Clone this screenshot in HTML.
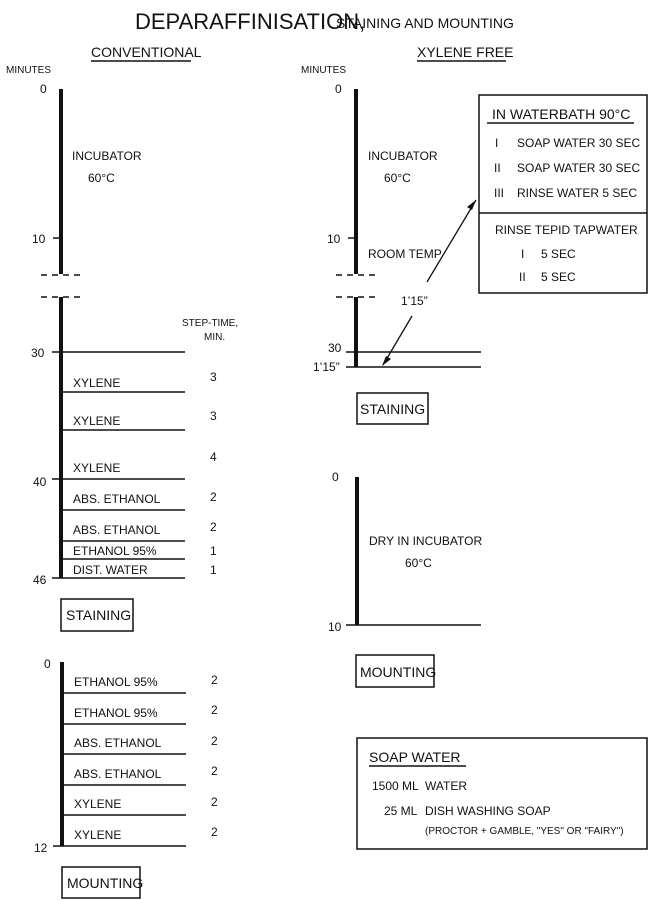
<!DOCTYPE html>
<html><head><meta charset="utf-8"><style>
html,body{margin:0;padding:0;background:#fff;}
svg{display:block;}
text{font-family:"Liberation Sans Narrow","Liberation Sans",sans-serif;fill:#111;}
</style></head><body>
<svg width="651" height="900" viewBox="0 0 651 900" xmlns="http://www.w3.org/2000/svg">
<g stroke="#111" fill="none">
<!-- left conventional axis -->
<line x1="61" y1="89" x2="61" y2="274" stroke-width="4"/>
<line x1="53" y1="238" x2="61" y2="238" stroke-width="1.5"/>
<line x1="41" y1="275" x2="80" y2="275" stroke-width="1.5" stroke-dasharray="6,5"/>
<line x1="41" y1="297" x2="80" y2="297" stroke-width="1.5" stroke-dasharray="6,5"/>
<line x1="61" y1="297" x2="61" y2="578" stroke-width="4"/>
<g stroke-width="1.5">
<line x1="52" y1="352" x2="185" y2="352"/>
<line x1="63" y1="392" x2="185" y2="392"/>
<line x1="63" y1="430" x2="185" y2="430"/>
<line x1="52" y1="479" x2="185" y2="479"/>
<line x1="63" y1="510" x2="185" y2="510"/>
<line x1="63" y1="541" x2="185" y2="541"/>
<line x1="63" y1="559" x2="185" y2="559"/>
<line x1="52" y1="578" x2="185" y2="578"/>
</g>
<rect x="61" y="599" width="72" height="32" stroke-width="1.5"/>
<!-- left mounting -->
<line x1="62" y1="662" x2="62" y2="846" stroke-width="4"/>
<g stroke-width="1.5">
<line x1="63" y1="693" x2="186" y2="693"/>
<line x1="63" y1="724" x2="186" y2="724"/>
<line x1="63" y1="754" x2="186" y2="754"/>
<line x1="63" y1="785" x2="186" y2="785"/>
<line x1="63" y1="815" x2="186" y2="815"/>
<line x1="53" y1="846" x2="186" y2="846"/>
</g>
<rect x="62" y="867" width="78" height="31" stroke-width="1.5"/>
<!-- right xylene free -->
<line x1="356" y1="89" x2="356" y2="274" stroke-width="4"/>
<line x1="348" y1="238" x2="356" y2="238" stroke-width="1.5"/>
<line x1="336" y1="275" x2="375" y2="275" stroke-width="1.5" stroke-dasharray="6,5"/>
<line x1="336" y1="297" x2="375" y2="297" stroke-width="1.5" stroke-dasharray="6,5"/>
<line x1="356" y1="297" x2="356" y2="367" stroke-width="4"/>
<line x1="346" y1="352" x2="481" y2="352" stroke-width="1.5"/>
<line x1="346" y1="367" x2="481" y2="367" stroke-width="1.5"/>
<rect x="357" y="393" width="71" height="31" stroke-width="1.5"/>
<rect x="479" y="95" width="168" height="198" stroke-width="1.5"/>
<line x1="479" y1="213" x2="647" y2="213" stroke-width="1.5"/>
<line x1="487" y1="123" x2="634" y2="123" stroke-width="1.5"/>
<!-- arrow -->
<line x1="427" y1="282" x2="476" y2="200" stroke-width="1.3"/>
<line x1="383" y1="365" x2="412" y2="316" stroke-width="1.3"/>
<line x1="357" y1="477" x2="357" y2="625" stroke-width="4"/>
<line x1="346" y1="625" x2="481" y2="625" stroke-width="1.5"/>
<rect x="356" y="655" width="78" height="32" stroke-width="1.5"/>
<rect x="357" y="738" width="290" height="111" stroke-width="1.5"/>
<line x1="369" y1="766" x2="466" y2="766" stroke-width="1.5"/>
<!-- underlines -->
<line x1="91" y1="61" x2="191" y2="61" stroke-width="1.5"/>
<line x1="417" y1="61" x2="506" y2="61" stroke-width="1.5"/>
</g>
<polygon points="476,200 467,207 472,210" fill="#111"/>
<polygon points="382,366 391,359 386,356" fill="#111"/>
<text x="135" y="29" font-size="22">DEPARAFFINISATION,</text>
<text x="336" y="28" font-size="14">STAINING AND MOUNTING</text>
<g font-size="14">
<text x="91" y="57">CONVENTIONAL</text>
<text x="417" y="57">XYLENE FREE</text>
<text x="360" y="414">STAINING</text>
<text x="66" y="620">STAINING</text>
<text x="67" y="888">MOUNTING</text>
<text x="360" y="677">MOUNTING</text>
<text x="492" y="119">IN WATERBATH 90°C</text>
<text x="369" y="762">SOAP WATER</text>
</g>
<g font-size="12">
<text x="6" y="73" font-size="10">MINUTES</text>
<text x="301" y="73" font-size="10">MINUTES</text>
<text x="40" y="93">0</text><text x="335" y="93">0</text>
<text x="32" y="243">10</text><text x="327" y="243">10</text>
<text x="31" y="357">30</text><text x="328" y="352">30</text>
<text x="313" y="371">1’15”</text>
<text x="33" y="486">40</text><text x="33" y="584">46</text>
<text x="44" y="668">0</text><text x="34" y="852">12</text>
<text x="332" y="481">0</text><text x="328" y="631">10</text>
<text x="72" y="160">INCUBATOR</text><text x="88" y="182">60°C</text>
<text x="368" y="160">INCUBATOR</text><text x="384" y="182">60°C</text>
<text x="368" y="258">ROOM TEMP</text>
<text x="401" y="305">1’15”</text>
<text x="182" y="326" font-size="10">STEP-TIME,</text>
<text x="204" y="340" font-size="10">MIN.</text>
<text x="73" y="387">XYLENE</text><text x="210" y="381">3</text>
<text x="73" y="425">XYLENE</text><text x="210" y="420">3</text>
<text x="73" y="472">XYLENE</text><text x="210" y="461">4</text>
<text x="73" y="503">ABS. ETHANOL</text><text x="210" y="501">2</text>
<text x="73" y="534">ABS. ETHANOL</text><text x="210" y="531">2</text>
<text x="73" y="555">ETHANOL 95%</text><text x="210" y="555">1</text>
<text x="73" y="574">DIST. WATER</text><text x="210" y="574">1</text>
<text x="74" y="686">ETHANOL 95%</text><text x="211" y="684">2</text>
<text x="74" y="717">ETHANOL 95%</text><text x="211" y="714">2</text>
<text x="74" y="747">ABS. ETHANOL</text><text x="211" y="745">2</text>
<text x="74" y="778">ABS. ETHANOL</text><text x="211" y="775">2</text>
<text x="74" y="808">XYLENE</text><text x="211" y="806">2</text>
<text x="74" y="839">XYLENE</text><text x="211" y="836">2</text>
<text x="369" y="545">DRY IN INCUBATOR</text><text x="405" y="567">60°C</text>
<text x="495" y="147">I</text><text x="517" y="147">SOAP WATER 30 SEC</text>
<text x="494" y="172">II</text><text x="517" y="172">SOAP WATER 30 SEC</text>
<text x="494" y="197">III</text><text x="517" y="197">RINSE WATER  5 SEC</text>
<text x="495" y="234">RINSE TEPID TAPWATER</text>
<text x="521" y="258">I</text><text x="541" y="258">5 SEC</text>
<text x="519" y="281">II</text><text x="541" y="281">5 SEC</text>
<text x="372" y="790">1500 ML</text><text x="425" y="790">WATER</text>
<text x="384" y="815">25 ML</text><text x="425" y="815">DISH WASHING SOAP</text>
<text x="425" y="834" font-size="10">(PROCTOR + GAMBLE, "YES" OR "FAIRY")</text>
</g>
</svg>
</body></html>
